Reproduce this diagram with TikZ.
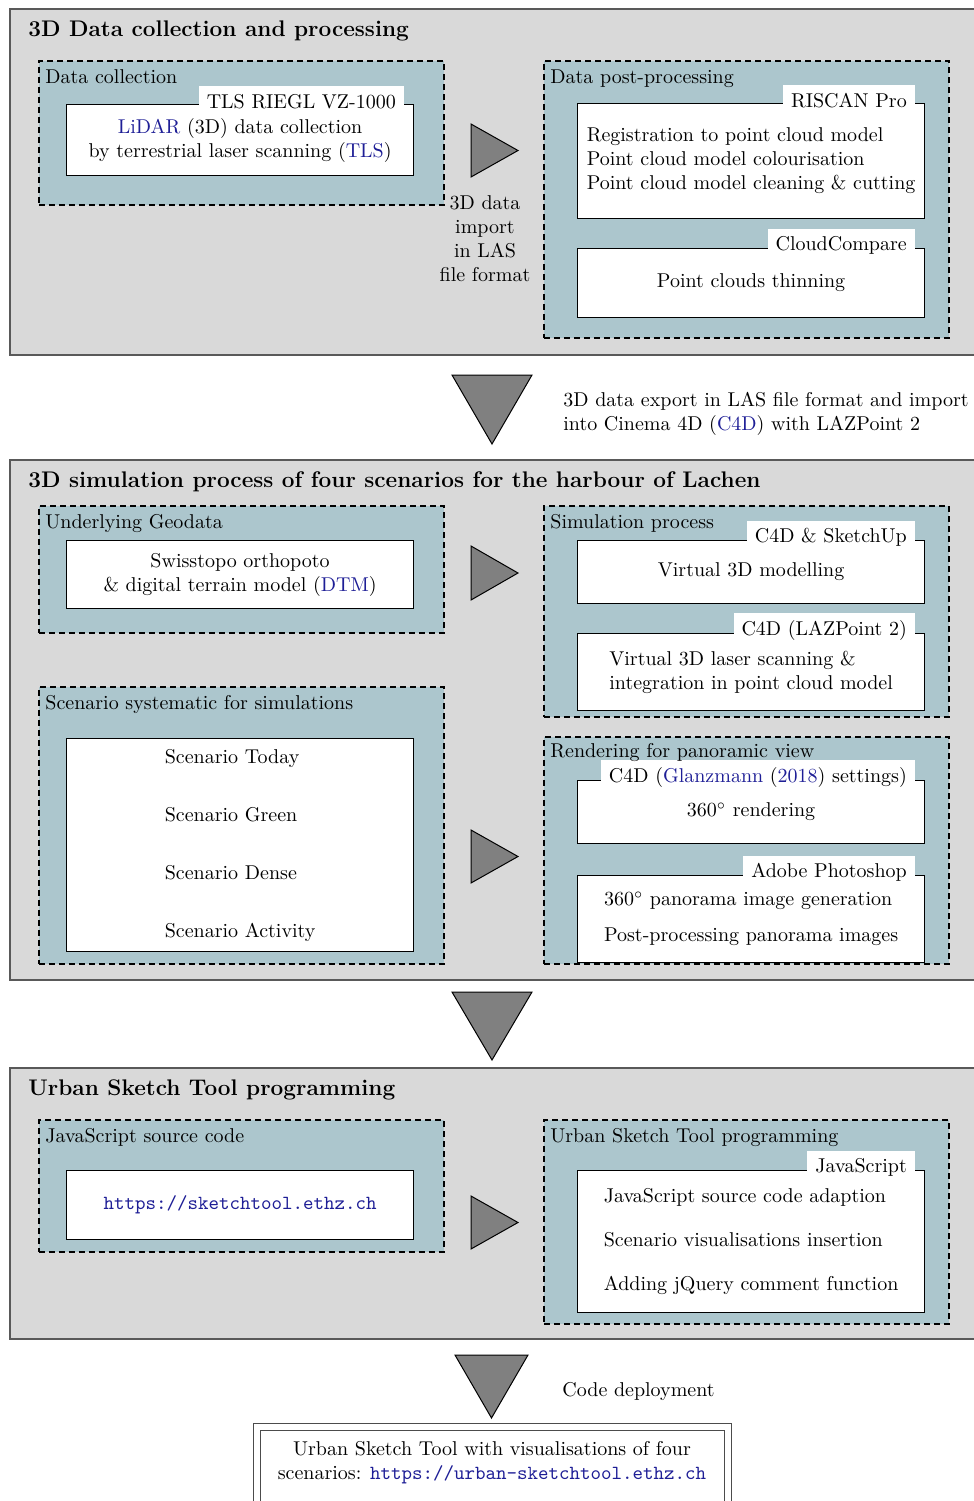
\documentclass[tikz,border=0pt]{standalone}
\usetikzlibrary{positioning,calc}

\definecolor{secgray}{RGB}{217,217,217}
\definecolor{groupteal}{RGB}{172,198,205}
\definecolor{linkblue}{RGB}{30,30,150}
\definecolor{arrowgray}{RGB}{128,128,128}
\newcommand{\lnk}[1]{\textcolor{linkblue}{#1}}

\tikzset{
	boxsize/.style 2 args={minimum width=#1*0.5pt, minimum height=#2*0.5pt},
	stagebox/.style={draw=black!65, line width=0.9pt, fill=secgray, anchor=north west, inner sep=0pt},
	groupbox/.style={draw, dash pattern=on 3pt off 2pt, line width=0.8pt, fill=groupteal, anchor=north west, inner sep=0pt},
	whitebox/.style={draw, fill=white, line width=0.6pt, anchor=north west, inner sep=0pt, align=center},
	tooltab/.style={fill=white, inner xsep=4pt, inner ysep=4pt, anchor=east},
	grouptitle/.style={anchor=base west, inner sep=0pt},
	stagetitle/.style={anchor=base west, inner sep=0pt, font=\fontsize{11.3}{13.5}\selectfont\bfseries},
	flow/.style={draw=black, fill=arrowgray, line width=0.5pt, line join=miter},
}

\begin{document}
\begin{tikzpicture}[x=0.5pt, y=-0.5pt]
	\useasboundingbox (0,0) rectangle (974,1501);

	% 3D data collection and processing
	\node[stagebox, boxsize={980}{346}] (stage1) at (9,8) {};
	\node[stagetitle] (stage1title) at (28,36) {3D Data collection and processing};

	\node[groupbox, boxsize={405}{144}] (collect) at (38,60) {};
	\node[grouptitle] (collecttitle) at ([xshift=3.5pt,yshift=-11.5pt]collect.north west) {Data collection};
	\node[whitebox, boxsize={347}{71}] (tlsbox) at (66,104) {\lnk{LiDAR} (3D) data collection\\by terrestrial laser scanning (\lnk{TLS})};
	\node[tooltab] (tlstab) at ([xshift=-5pt,yshift=1.2pt]tlsbox.north east) {TLS RIEGL VZ-1000};

	\draw[flow] (471,124) -- (518,150.5) -- (471,177) -- cycle;
	\node[align=center] (importlbl) at (485,238.5) {3D data\\import\\in LAS\\file format};

	\node[groupbox, boxsize={405}{277}] (post) at (543,60) {};
	\node[grouptitle] (posttitle) at ([xshift=3.5pt,yshift=-11.5pt]post.north west) {Data post-processing};
	\node[whitebox, boxsize={347}{115}, align=left] (riscanbox) at (577,103) {Registration to point cloud model\\Point cloud model colourisation\\Point cloud model cleaning \& cutting};
	\node[tooltab] (riscantab) at ([xshift=-5pt,yshift=1.2pt]riscanbox.north east) {RISCAN Pro};
	\node[whitebox, boxsize={347}{69}] (ccbox) at (577,248) {Point clouds thinning};
	\node[tooltab] (cctab) at ([xshift=-5pt,yshift=1.2pt]ccbox.north east) {CloudCompare};

	\draw[flow] (452,375) -- (532,375) -- (492,444) -- cycle;
	\node[align=left, anchor=west, inner sep=0pt] (exportlbl) at (563,414) {3D data export in LAS file format and import\\into Cinema 4D (\lnk{C4D}) with LAZPoint 2};

	% 3D simulation process
	\node[stagebox, boxsize={980}{520}] (stage2) at (9,459) {};
	\node[stagetitle] (stage2title) at (28,487) {3D simulation process of four scenarios for the harbour of Lachen};

	\node[groupbox, boxsize={405}{127}] (geo) at (38,505) {};
	\node[grouptitle] (geotitle) at ([xshift=3.5pt,yshift=-11.5pt]geo.north west) {Underlying Geodata};
	\node[whitebox, boxsize={347}{68}] (geobox) at (66,540) {Swisstopo orthopoto\\\& digital terrain model (\lnk{DTM})};

	\draw[flow] (471,546) -- (518,573) -- (471,600) -- cycle;

	\node[groupbox, boxsize={405}{211}] (sim) at (543,505) {};
	\node[grouptitle] (simtitle) at ([xshift=3.5pt,yshift=-11.5pt]sim.north west) {Simulation process};
	\node[whitebox, boxsize={347}{63}] (modelbox) at (577,540) {Virtual 3D modelling};
	\node[tooltab] (modeltab) at ([xshift=-5pt,yshift=1.2pt]modelbox.north east) {C4D \& SketchUp};
	\node[whitebox, boxsize={347}{77}, align=left] (laserbox) at (577,633) {Virtual 3D laser scanning \&\\integration in point cloud model};
	\node[tooltab] (lasertab) at ([xshift=-5pt,yshift=1.2pt]laserbox.north east) {C4D (LAZPoint 2)};

	\node[groupbox, boxsize={405}{277}] (scen) at (38,686) {};
	\node[grouptitle] (scentitle) at ([xshift=3.5pt,yshift=-11.5pt]scen.north west) {Scenario systematic for simulations};
	\node[whitebox, boxsize={347}{213}, align=left] (scenbox) at (66,738) {Scenario Today\\[17pt]Scenario Green\\[17pt]Scenario Dense\\[17pt]Scenario Activity};

	\draw[flow] (471,830) -- (518,856.5) -- (471,883) -- cycle;

	\node[groupbox, boxsize={405}{227}] (render) at (543,736) {};
	\node[whitebox, boxsize={347}{63}] (renderbox) at (577,780) {$360^\circ$ rendering};
	\node[tooltab] (rendertab) at ([xshift=-5pt,yshift=1.2pt]renderbox.north east) {C4D (\lnk{Glanzmann} (\lnk{2018}) settings)};
	\node[grouptitle] (rendertitle) at ([xshift=3.5pt,yshift=-10.5pt]render.north west) {Rendering for panoramic view};
	\node[whitebox, boxsize={347}{87}, align=left] (photobox) at (577,875) {$360^\circ$ panorama image generation\\[6pt]Post-processing panorama images};
	\node[tooltab] (phototab) at ([xshift=-5pt,yshift=1.2pt]photobox.north east) {Adobe Photoshop};

	\draw[flow] (452,992) -- (532,992) -- (492,1060) -- cycle;

	% Urban Sketch Tool programming
	\node[stagebox, boxsize={980}{271}] (stage3) at (9,1067) {};
	\node[stagetitle] (stage3title) at (28,1095) {Urban Sketch Tool programming};

	\node[groupbox, boxsize={405}{132}] (jsrc) at (38,1119) {};
	\node[grouptitle] (jsrctitle) at ([xshift=3.5pt,yshift=-11.5pt]jsrc.north west) {JavaScript source code};
	\node[whitebox, boxsize={347}{69}] (jsrcbox) at (66,1170) {\lnk{\texttt{https://sketchtool.ethz.ch}}};

	\draw[flow] (471,1196) -- (518,1222.5) -- (471,1249) -- cycle;

	\node[groupbox, boxsize={405}{204}] (ust) at (543,1119) {};
	\node[grouptitle] (usttitle) at ([xshift=3.5pt,yshift=-11.5pt]ust.north west) {Urban Sketch Tool programming};
	\node[whitebox, boxsize={347}{142}, align=left] (jsprogbox) at (577,1170) {JavaScript source code adaption\\[10pt]Scenario visualisations insertion\\[10pt]Adding jQuery comment function};
	\node[tooltab] (jsprogtab) at ([xshift=-5pt,yshift=1.2pt]jsprogbox.north east) {JavaScript};

	\draw[flow] (455,1355) -- (528,1355) -- (491.5,1418) -- cycle;
	\node[anchor=west, inner sep=0pt] (deploylbl) at (562,1391) {Code deployment};

	% result
	\node[draw=black!70, double, double distance=3pt, line width=0.5pt, boxsize={471}{120}, anchor=north, inner sep=0pt] (finalbox) at (492,1426.5) {};
	\node[align=center] (finaltext) at (492,1463) {Urban Sketch Tool with visualisations of four\\scenarios: \lnk{\texttt{https://urban-sketchtool.ethz.ch}}};
\end{tikzpicture}
\end{document}
